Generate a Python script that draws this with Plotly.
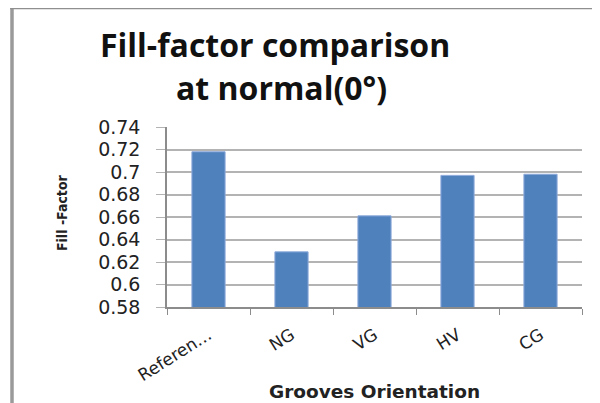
import plotly.graph_objects as go

categories = ["Referen…", "NG", "VG", "HV", "CG"]
fill_factor = [0.718, 0.629, 0.661, 0.697, 0.698]
y_ticks = [0.58, 0.60, 0.62, 0.64, 0.66, 0.68, 0.70, 0.72, 0.74]
y_tick_labels = ["0.58", "0.6", "0.62", "0.64", "0.66", "0.68", "0.7", "0.72", "0.74"]
title_lines = ["Fill-factor comparison", "at normal(0°)"]

fig = go.Figure()
fig.add_trace(go.Bar(
    x=categories, y=fill_factor,
    marker=dict(color="#4f81bd", line=dict(color="#8eaadb", width=1)),
    width=0.4,
))

fig.update_layout(
    width=600, height=403,
    margin=dict(l=159, r=26, t=119, b=104, autoexpand=False),
    paper_bgcolor="white", plot_bgcolor="white",
    showlegend=False,
)

fig.update_yaxes(
    range=[0.58, 0.74], tickvals=y_ticks, ticktext=y_tick_labels,
    showgrid=True, gridcolor="#b3b3b3", gridwidth=1.5,
    showline=True, linecolor="#8c8c8c", linewidth=1.5,
    ticks="outside", ticklen=9, tickcolor="#b3b3b3",
    ticklabelstandoff=12,
    tickfont=dict(family="DejaVu Sans", size=19, color="#222"),
    zeroline=False, automargin=False,
)
fig.update_xaxes(
    tickangle=-32, tickson="boundaries",
    showline=True, linecolor="#8c8c8c", linewidth=1.5,
    ticks="outside", ticklen=6, tickcolor="#8c8c8c",
    ticklabelstandoff=10,
    tickfont=dict(family="DejaVu Sans", size=17, color="#222"),
    automargin=False,
)

# title lines
fig.add_annotation(
    text="<b>" + title_lines[0] + "</b>", xref="paper", yref="paper",
    x=0.260, y=1.461, xanchor="center", yanchor="middle", showarrow=False,
    font=dict(family="Open Sans", size=32, color="#111"),
)
fig.add_annotation(
    text="<b>" + title_lines[1] + "</b>", xref="paper", yref="paper",
    x=0.277, y=1.222, xanchor="center", yanchor="middle", showarrow=False,
    font=dict(family="Open Sans", size=32, color="#111"),
)

fig.add_annotation(
    text="<b>Grooves Orientation</b>", xref="paper", yref="paper",
    x=0.5, y=-0.472, xanchor="center", yanchor="middle", showarrow=False,
    font=dict(family="DejaVu Sans", size=18.5, color="#222"),
)
fig.add_annotation(
    text="<b>Fill -Factor</b>", xref="paper", yref="paper",
    x=-0.253, y=0.522, xanchor="center", yanchor="middle", showarrow=False,
    textangle=-90,
    font=dict(family="DejaVu Sans Condensed", size=14, color="#222"),
)

# chart frame (left and top edges visible)
fig.add_shape(type="line", xref="paper", yref="paper",
              x0=-0.3735, x1=-0.3735, y0=-0.6, y1=1.8,
              line=dict(color="#9a9a9a", width=3.5))
fig.add_shape(type="line", xref="paper", yref="paper",
              x0=-0.378, x1=1.1, y0=1.658, y1=1.658,
              line=dict(color="#8f8f8f", width=1.5))

fig.write_html("out.html")
